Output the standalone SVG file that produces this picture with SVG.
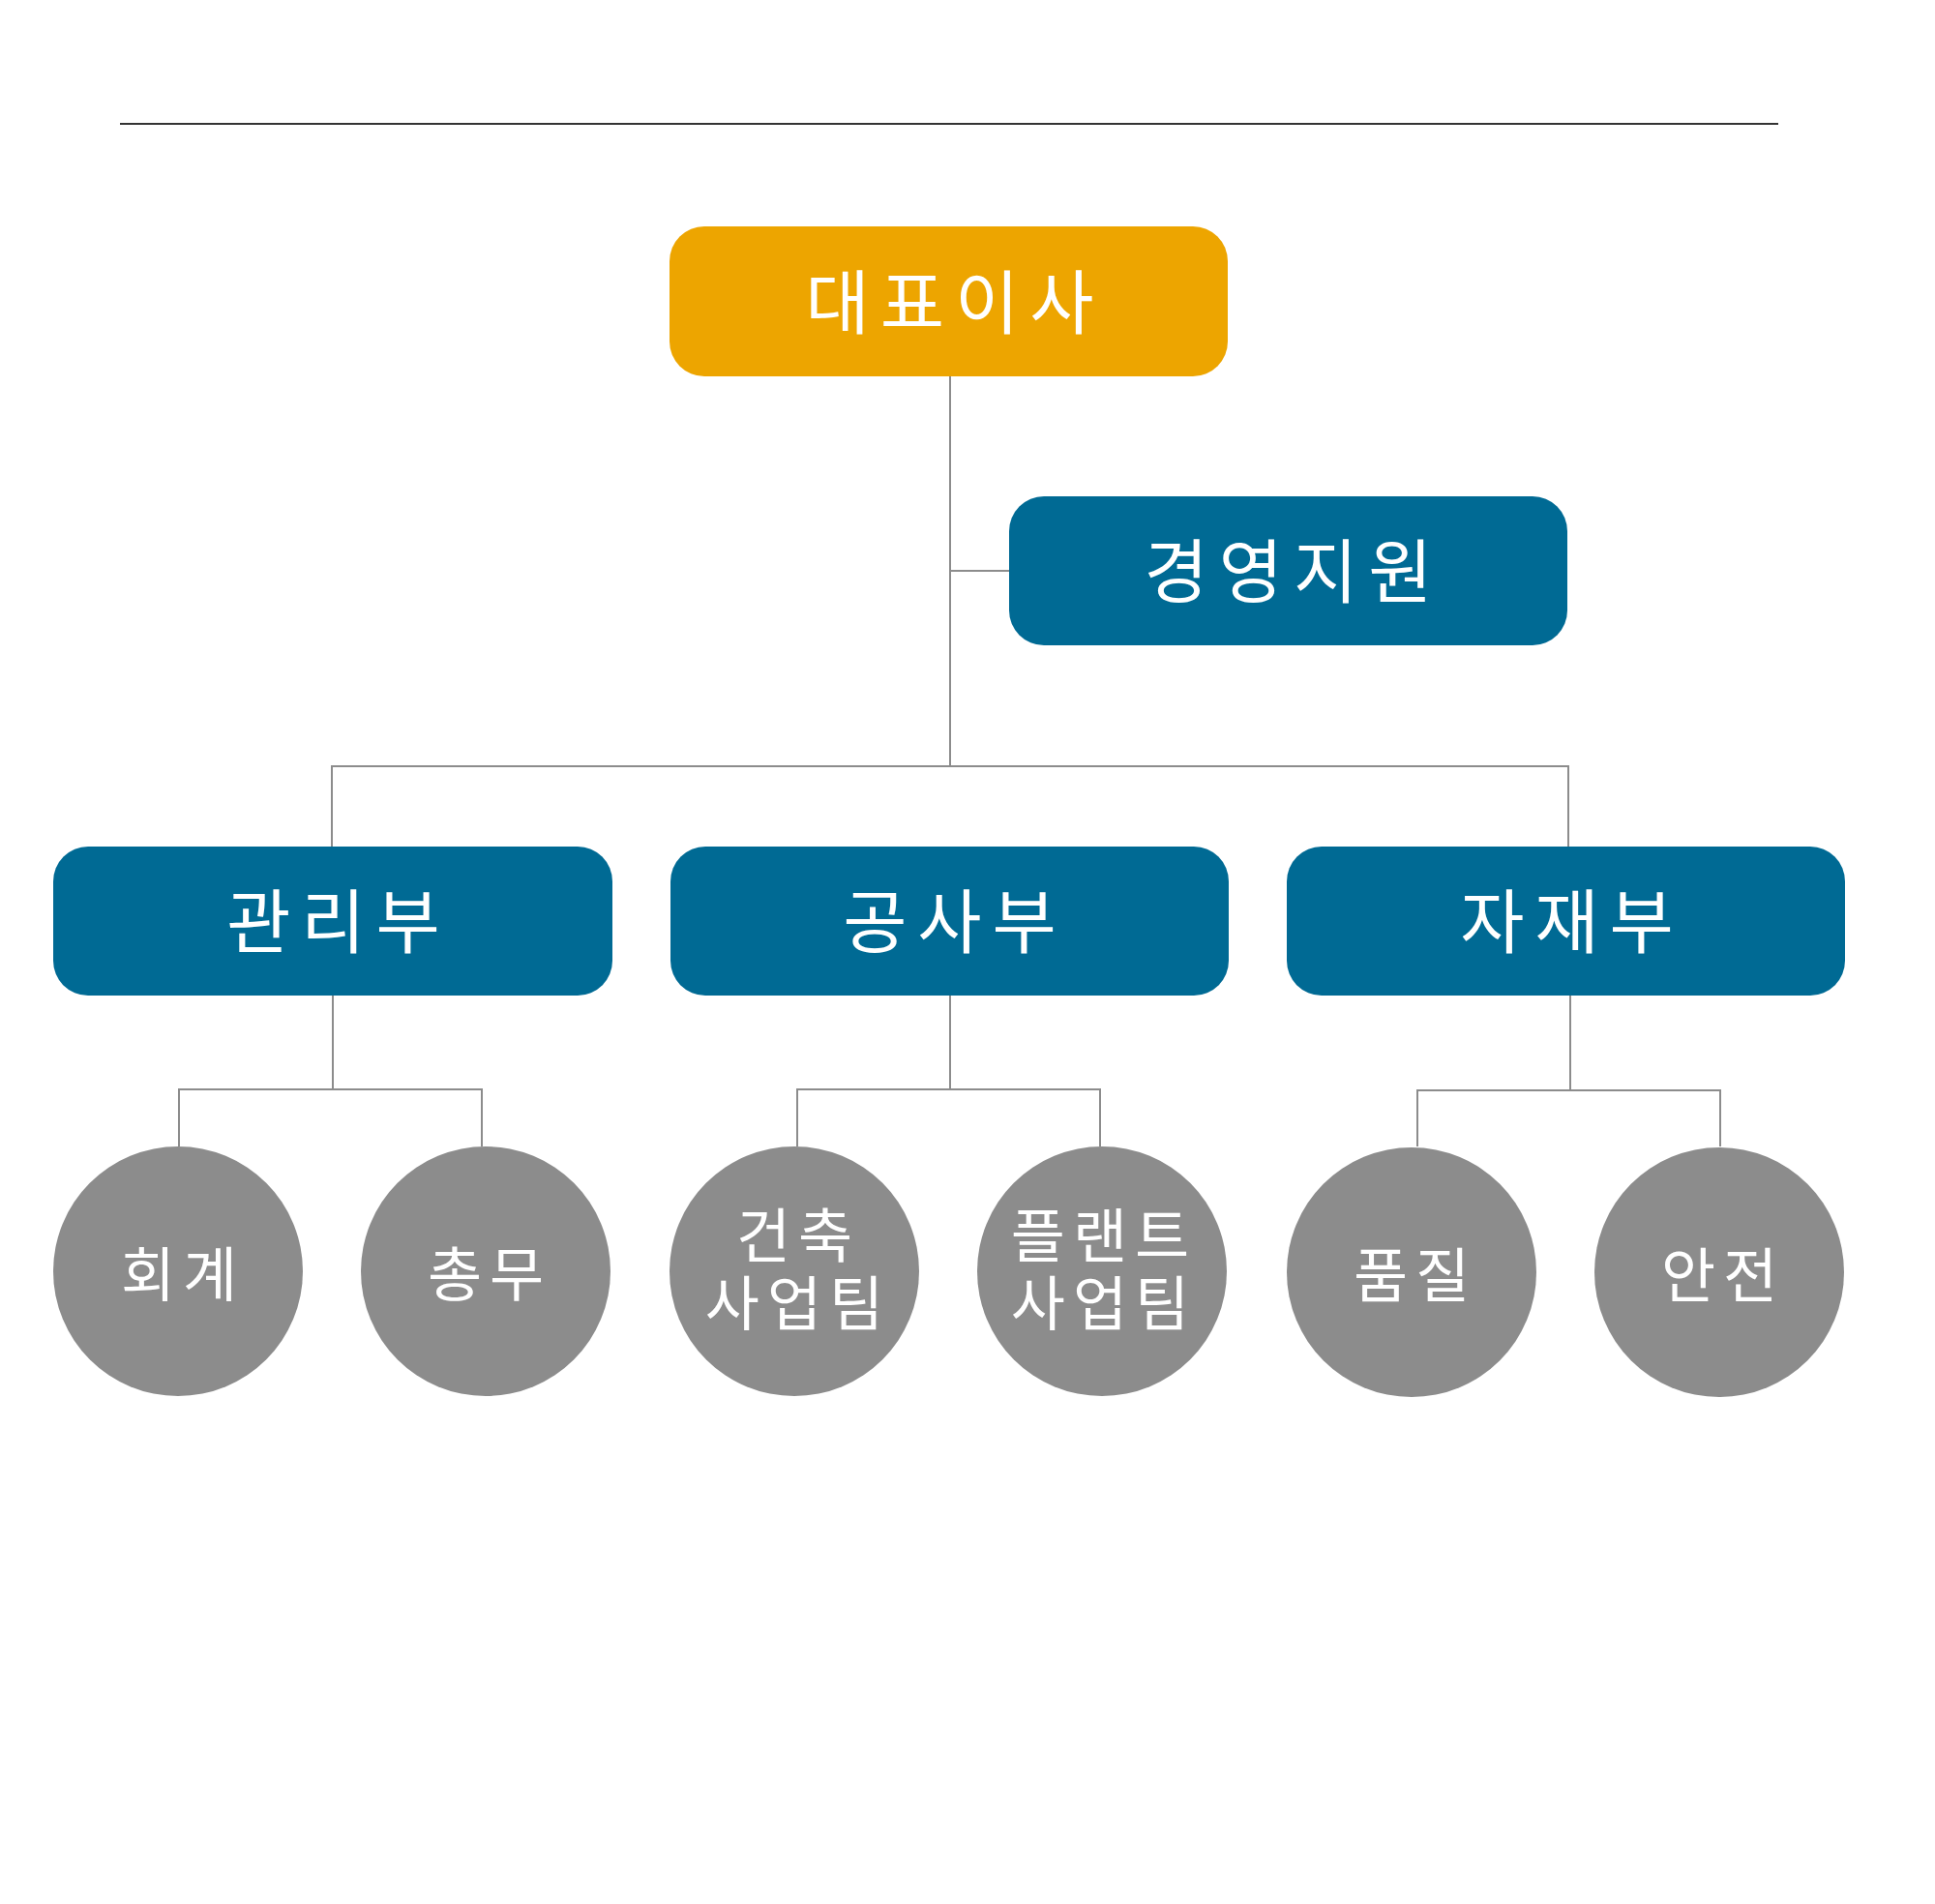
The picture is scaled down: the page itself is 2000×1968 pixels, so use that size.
<svg xmlns="http://www.w3.org/2000/svg" width="2000" height="1968" viewBox="0 0 2000 1968">
<style>
.box{fill:#006A94}
.top{fill:#EDA500}
.circ{fill:#8C8C8C}
.lbl{font-family:"Noto Sans CJK KR","Noto Sans",sans-serif;fill:#FFFFFF;text-anchor:middle}
.big{font-size:72px;letter-spacing:11px}
.small{font-size:61px;letter-spacing:8px}
.conn{fill:none;stroke:#8C8C8C;stroke-width:2}
</style>
<rect width="2000" height="1968" fill="#FFFFFF"/>
<line x1="124" y1="128" x2="1838" y2="128" stroke="#333333" stroke-width="2"/>
<g id="connectors">
<path class="conn" d="M982 389 V792 M982 590 H1043 M343 875 V792 H1621 V875"/>
<path class="conn" d="M344 1029 V1126 M185 1185 V1126 H498 V1185"/>
<path class="conn" d="M982 1029 V1126 M824 1185 V1126 H1137 V1185"/>
<path class="conn" d="M1623 1029 V1127 M1465 1185 V1127 H1778 V1185"/>
</g>
<g id="ceo"><rect class="top" x="692" y="234" width="577" height="155" rx="36"/><text class="lbl big" x="987" y="339">대표이사</text></g>
<g id="mgmt-support"><rect class="box" x="1043" y="513" width="577" height="154" rx="36"/><text class="lbl big" x="1337" y="617">경영지원</text></g>
<g id="admin"><rect class="box" x="55" y="875" width="578" height="154" rx="36"/><text class="lbl big" x="350" y="979">관리부</text></g>
<g id="construction"><rect class="box" x="693" y="875" width="577" height="154" rx="36"/><text class="lbl big" x="987" y="979">공사부</text></g>
<g id="materials"><rect class="box" x="1330" y="875" width="577" height="154" rx="36"/><text class="lbl big" x="1625" y="979">자재부</text></g>
<g id="accounting"><circle class="circ" cx="184" cy="1314" r="129"/><text class="lbl small" x="189" y="1340">회계</text></g>
<g id="general-affairs"><circle class="circ" cx="502" cy="1314" r="129"/><text class="lbl small" x="506" y="1340">총무</text></g>
<g id="building"><circle class="circ" cx="821" cy="1314" r="129"/><text class="lbl small"><tspan x="825" y="1300">건축</tspan><tspan x="825" y="1370">사업팀</tspan></text></g>
<g id="plant"><circle class="circ" cx="1139" cy="1314" r="129"/><text class="lbl small"><tspan x="1141" y="1300">플랜트</tspan><tspan x="1141" y="1370">사업팀</tspan></text></g>
<g id="quality"><circle class="circ" cx="1459" cy="1315" r="129"/><text class="lbl small" x="1463" y="1341">품질</text></g>
<g id="safety"><circle class="circ" cx="1777" cy="1315" r="129"/><text class="lbl small" x="1781" y="1341">안전</text></g>
</svg>
